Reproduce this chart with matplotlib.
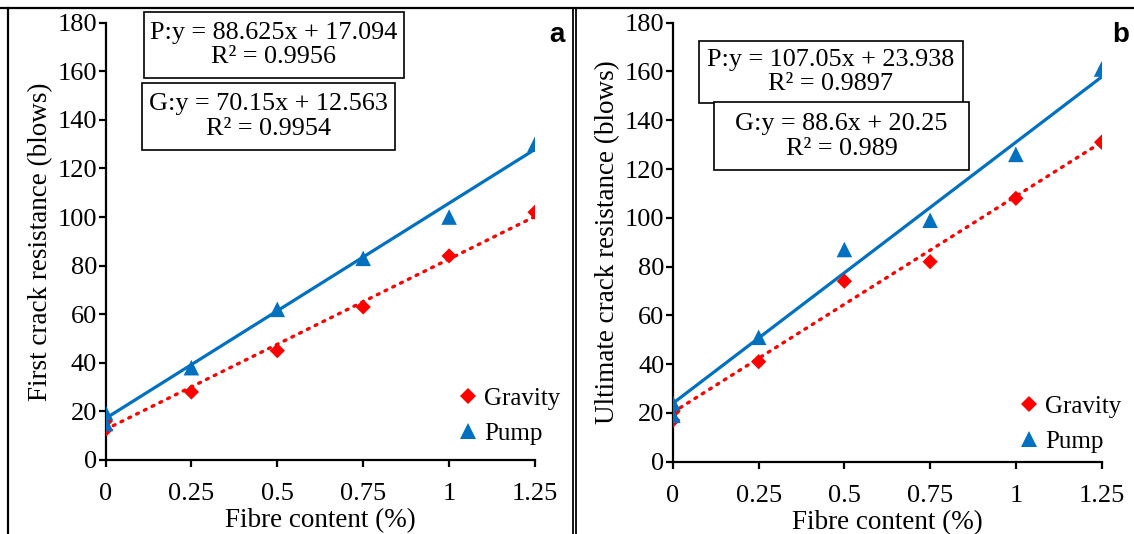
import matplotlib
matplotlib.use("Agg")
import matplotlib.pyplot as plt
from matplotlib.lines import Line2D
import numpy as np

# ---------------- data ----------------
fibre = [0, 0.25, 0.5, 0.75, 1, 1.25]
xticks = [0, 0.25, 0.5, 0.75, 1, 1.25]
xticklabels = ["0", "0.25", "0.5", "0.75", "1", "1.25"]
yticks = [0, 20, 40, 60, 80, 100, 120, 140, 160, 180]

# panel a: first crack resistance
a_gravity_x = [0, 0, 0.25, 0.5, 0.75, 1, 1.25]
a_gravity_y = [16, 12.5, 28, 45, 63, 84, 102]
a_pump_x = [0, 0, 0.25, 0.5, 0.75, 1, 1.25]
a_pump_y = [19.5, 15, 38, 62, 83, 100, 130]
a_pump_fit = [88.625, 17.094]
a_grav_fit = [70.15, 12.563]
a_pump_text = "P:y = 88.625x + 17.094\nR² = 0.9956"
a_grav_text = "G:y = 70.15x + 12.563\nR² = 0.9954"

# panel b: ultimate crack resistance
b_gravity_x = [0, 0, 0.25, 0.5, 0.75, 1, 1.25]
b_gravity_y = [17, 20.5, 41, 74, 82, 108, 131]
b_pump_x = [0, 0, 0.25, 0.5, 0.75, 1, 1.25]
b_pump_y = [24, 19, 51, 87, 99, 126, 161]
b_pump_fit = [107.05, 23.938]
b_grav_fit = [88.6, 20.25]
b_pump_text = "P:y = 107.05x + 23.938\nR² = 0.9897"
b_grav_text = "G:y = 88.6x + 20.25\nR² = 0.989"

BLUE = "#0070C0"
RED = "#FF0000"
SERIF = ["Liberation Serif", "DejaVu Serif"]

W, H = 1134, 534
fig = plt.figure(figsize=(W / 100, H / 100), dpi=100)

def px_axes(left, right, top, bottom):
    return fig.add_axes([left / W, 1 - bottom / H, (right - left) / W, (bottom - top) / H])

def draw_panel(ax, gx, gy, px_, py, gfit, pfit, ylabel, ptext, gtext, pbox, gbox,
               letter, letter_xy, leg_anchor):
    xs = np.array([0, 1.25])
    ax.plot(xs, np.polyval(pfit, xs), color=BLUE, lw=2.3, solid_capstyle="butt", zorder=2)
    ax.plot(xs, np.polyval(gfit, xs), color=RED, lw=2.4, linestyle=(0, (0.6, 2.0)),
            dash_capstyle="round", zorder=2)
    ax.scatter(gx, gy, marker="D", s=60, color=RED, edgecolors="none", zorder=3)
    ax.scatter(px_, py, marker="^", s=125, color=BLUE, edgecolors="none", zorder=4)

    ax.set_xlim(0, 1.25)
    ax.set_ylim(0, 180)
    ax.set_xticks(xticks)
    ax.set_xticklabels(xticklabels)
    ax.set_yticks(yticks)
    for s in ["top", "right"]:
        ax.spines[s].set_visible(False)
    for s in ["left", "bottom"]:
        ax.spines[s].set_linewidth(1.6)
    ax.tick_params(axis="both", direction="out", length=4.7, width=1.6,
                   labelsize=19, pad=1.5)
    ax.tick_params(axis="x", pad=12)
    for lab in ax.get_xticklabels() + ax.get_yticklabels():
        lab.set_fontfamily(SERIF)
    ax.set_xlabel("Fibre content (%)", fontsize=19.5, family=SERIF, labelpad=2)
    ax.set_ylabel(ylabel, fontsize=19.5, family=SERIF, labelpad=3)
    ax.patch.set_alpha(0)

    # equation boxes (figure pixel coords)
    for txt, (l, r, t, b) in [(ptext, pbox), (gtext, gbox)]:
        rect = plt.Rectangle((l / W, 1 - b / H), (r - l) / W, (b - t) / H,
                             transform=fig.transFigure, fill=True, facecolor="white",
                             edgecolor="black", lw=1.2, zorder=5)
        fig.add_artist(rect)
        fig.text((l + r) / 2 / W, 1 - (t + b) / 2 / H, txt, ha="center", va="center",
                 fontsize=18.8, family=SERIF, linespacing=1.15, zorder=6)

    fig.text(letter_xy[0] / W, 1 - letter_xy[1] / H, letter, ha="center", va="center",
             fontsize=20, fontweight="bold", family=["Liberation Sans", "DejaVu Sans"])

    handles = [Line2D([], [], marker="D", color=RED, ls="none", markersize=8.5, markeredgewidth=0),
               Line2D([], [], marker="^", color=BLUE, ls="none", markersize=11, markeredgewidth=0)]
    ax.legend(handles, ["Gravity", "Pump"], loc="center left",
              bbox_to_anchor=(leg_anchor[0] / W, 1 - leg_anchor[1] / H),
              bbox_transform=fig.transFigure, frameon=False,
              prop={"family": SERIF, "size": 18}, handlelength=0.6,
              handletextpad=0.35, labelspacing=0.5, borderpad=0, borderaxespad=0)

ax_a = px_axes(105.5, 535, 22.7, 460)
draw_panel(ax_a, a_gravity_x, a_gravity_y, a_pump_x, a_pump_y, a_grav_fit, a_pump_fit,
           "First crack resistance (blows)", a_pump_text, a_grav_text,
           (143.5, 404, 11.7, 78.3), (142, 394.5, 83.3, 150),
           "a", (557, 35), (460, 416))

ax_b = px_axes(672.9, 1101.6, 22.7, 461.7)
draw_panel(ax_b, b_gravity_x, b_gravity_y, b_pump_x, b_pump_y, b_grav_fit, b_pump_fit,
           "Ultimate crack resistance (blows)", b_pump_text, b_grav_text,
           (698.5, 962.5, 41, 103), (714, 969, 102.5, 170),
           "b", (1121, 35), (1021, 424))

# outer frame lines
def fline(x0, y0, x1, y1, lw=1.6):
    fig.add_artist(Line2D([x0 / W, x1 / W], [1 - y0 / H, 1 - y1 / H],
                          transform=fig.transFigure, color="black", lw=lw))

fline(0, 8, W, 8)
fline(8, 8, 8, H)
fline(572.5, 8, 572.5, H, lw=1.3)
fline(575.8, 8, 575.8, H, lw=1.3)

fig.savefig("out.png", dpi=100)
